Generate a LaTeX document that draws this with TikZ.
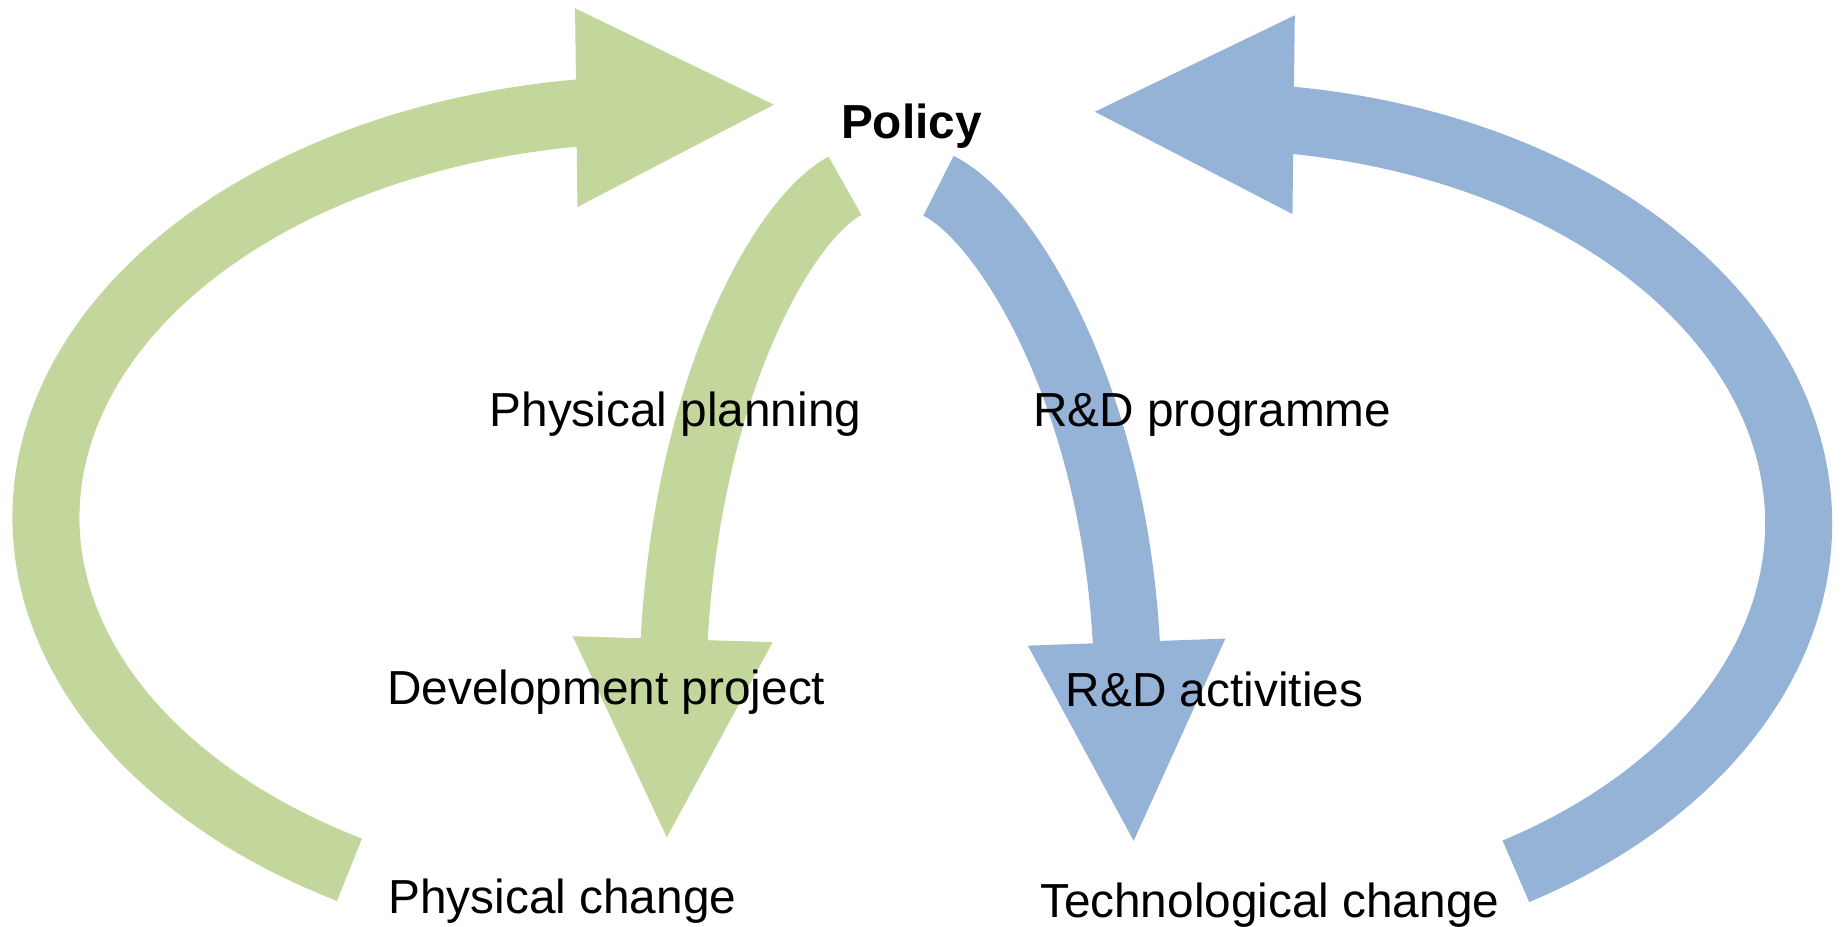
\documentclass[tikz,border=0pt]{standalone}
\usepackage{fontspec}
\setmainfont{Liberation Sans}
\definecolor{pgreen}{HTML}{C3D69B}
\definecolor{pblue}{HTML}{95B3D7}
\begin{document}
\begin{tikzpicture}[x=0.5pt,y=-0.5pt,
  shaft/.style={line width=28.5pt},
  lbl/.style={inner sep=0pt, anchor=base west, font=\fontsize{20.3}{24}\selectfont},
  ]
\useasboundingbox (0,0) rectangle (1568,788);
% green outer loop: Physical change -> Policy
\draw[shaft, pgreen] plot[domain=120.3:263, samples=90] ({560+521*cos(\x)},{440+347*sin(\x)});
\coordinate (gHa) at (489,7);
\coordinate (gHt) at (658,89);
\coordinate (gHb) at (491,176);
\fill[pgreen] (gHa) -- (gHt) -- (gHb) -- cycle;
% blue outer loop: Technological change -> Policy
\draw[shaft, pblue] plot[domain=-82.6:58.8, samples=90] ({1030.5+499*cos(\x)},{445+346*sin(\x)});
\coordinate (bHa) at (1101,13);
\coordinate (bHt) at (931,95);
\coordinate (bHb) at (1099,182);
\fill[pblue] (bHa) -- (bHt) -- (bHb) -- cycle;
% green inner: Policy -> Development project
\coordinate (gs0) at (718.5,158);
\coordinate (gs1) at (573,549);
\draw[shaft, pgreen] (gs0) .. controls (665.7,186.2) and (584,330) .. (gs1);
\coordinate (gIa) at (487,541);
\coordinate (gIt) at (567,712);
\coordinate (gIb) at (657,546);
\fill[pgreen] (gIa) -- (gIt) -- (gIb) -- cycle;
% blue inner: Policy -> R&D activities
\coordinate (bs0) at (798,158);
\coordinate (bs1) at (958,551);
\draw[shaft, pblue] (bs0) .. controls (852,183.8) and (947,330) .. (bs1);
\coordinate (bIa) at (874,549);
\coordinate (bIt) at (964,715);
\coordinate (bIb) at (1042,543);
\fill[pblue] (bIa) -- (bIt) -- (bIb) -- cycle;
% labels
\node[lbl, anchor=base] (policy) at (775,118) {\bfseries Policy};
\node[lbl] (pplan) at (416,363) {Physical planning};
\node[lbl] (rdprog) at (878,363) {R\&D programme};
\node[lbl] (devproj) at (329,599) {Development project};
\node[lbl] (rdact) at (906,601) {R\&D activities};
\node[lbl] (pchange) at (330,777) {Physical change};
\node[lbl] (tchange) at (884,780) {Technological change};
\end{tikzpicture}
\end{document}
